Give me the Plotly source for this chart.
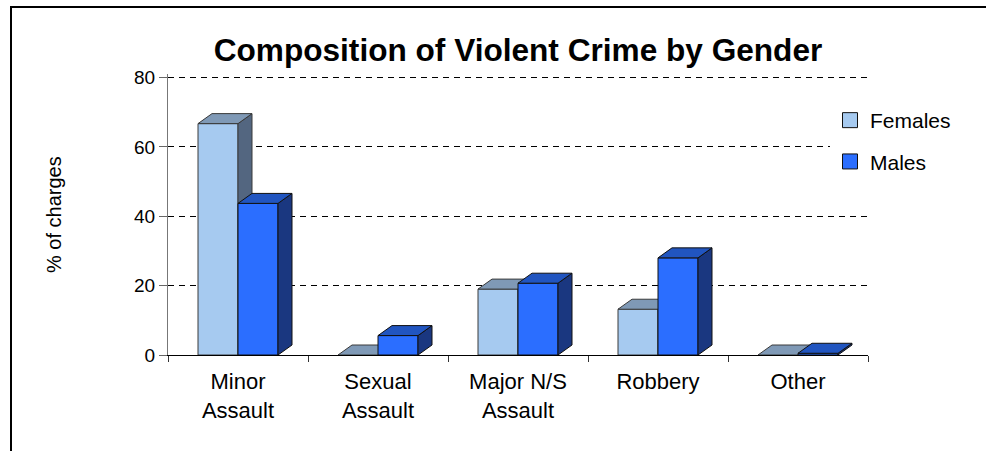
import plotly.graph_objects as go

# ---- data -------------------------------------------------------------
categories = ["Minor<br>Assault", "Sexual<br>Assault", "Major N/S<br>Assault", "Robbery", "Other"]
females = [66.7, 0.0, 19.0, 13.2, 0.0]
males = [43.7, 5.6, 20.7, 28.0, 0.5]
y_ticks = [0, 20, 40, 60, 80]

# ---- styling ----------------------------------------------------------
FONT = "Arial, Liberation Sans, sans-serif"
BAR_W = 0.2857          # width of one bar, in category units
DEPTH_X = 0.10          # 3-D depth offset along x (category units)
DEPTH_Y = 2.88          # 3-D depth offset along y (value units)

series = [
    ("Females", females, -BAR_W, dict(front="#A6CAF0", top="#7F99B6", side="#536680", edge="#3a3a3a")),
    ("Males", males, 0.0, dict(front="#2B6EFF", top="#2155C0", side="#1A3780", edge="#111111")),
]

fig = go.Figure()


def face(xs, ys, fill, edge):
    fig.add_trace(go.Scatter(
        x=xs + [xs[0]], y=ys + [ys[0]], mode="lines", fill="toself",
        fillcolor=fill, line=dict(color=edge, width=1),
        hoverinfo="skip", showlegend=False))


for name, values, offset, col in series:
    for i, v in enumerate(values):
        x0 = i + offset
        x1 = x0 + BAR_W
        # front face
        face([x0, x1, x1, x0], [0, 0, v, v], col["front"], col["edge"])
        # side face
        face([x1, x1 + DEPTH_X, x1 + DEPTH_X, x1], [0, DEPTH_Y, v + DEPTH_Y, v], col["side"], col["edge"])
        # top face
        face([x0, x1, x1 + DEPTH_X, x0 + DEPTH_X], [v, v, v + DEPTH_Y, v + DEPTH_Y], col["top"], col["edge"])

# legend entries
for k, (name, values, offset, col) in enumerate(series):
    fig.add_trace(go.Scatter(
        x=[None], y=[None], mode="markers", name=name, legendgroup=f"g{k}",
        marker=dict(symbol="square", size=15, color=col["front"],
                    line=dict(color="#111111", width=1))))

W, H = 986, 451
L, R, T, B = 168, 118, 74, 96
pw, ph = W - L - R, H - T - B
Y_MAX = 81


def px_x(x):
    return (x - L) / pw


def px_y(y):
    return (H - B - y) / ph


# outer frame: left and top edges only
frame = [
    dict(type="line", xref="paper", yref="paper",
         x0=px_x(11), x1=px_x(11), y0=px_y(H), y1=px_y(6),
         line=dict(color="black", width=2), layer="above"),
    dict(type="line", xref="paper", yref="paper",
         x0=px_x(10), x1=px_x(W), y0=px_y(7), y1=px_y(7),
         line=dict(color="black", width=2), layer="above"),
]

fig.update_layout(
    width=W, height=H,
    margin=dict(l=L, r=R, t=T, b=B),
    paper_bgcolor="white", plot_bgcolor="white",
    font=dict(family=FONT, color="black"),
    title=dict(text="<b>Composition of Violent Crime by Gender</b>",
               x=0.5, xref="paper", xanchor="center",
               y=(H - 50) / H, yanchor="middle",
               font=dict(size=31.6, family=FONT, color="black")),
    xaxis=dict(
        range=[-0.5, 4.5], tickmode="array",
        tickvals=list(range(len(categories))), ticktext=categories,
        ticks="", showgrid=False, zeroline=False,
        showline=True, linecolor="black", linewidth=1,
        tickfont=dict(size=22, family=FONT), ticklabelstandoff=7,
        minor=dict(ticks="outside", tick0=-0.5, dtick=1, ticklen=6,
                   tickcolor="#333333", tickwidth=1, showgrid=False),
        fixedrange=True),
    yaxis=dict(
        range=[0, Y_MAX], tickvals=y_ticks,
        ticks="outside", ticklen=8, tickcolor="#666666", tickwidth=1,
        showline=True, linecolor="#777777", linewidth=1,
        showgrid=True, gridcolor="black", gridwidth=1, griddash="6px,5px",
        zeroline=False, tickfont=dict(size=19, family=FONT),
        fixedrange=True),
    legend=dict(x=px_x(830), y=px_y(100), xanchor="left", yanchor="top",
                bgcolor="white", font=dict(size=21, family=FONT),
                traceorder="grouped", tracegroupgap=11,
                itemsizing="trace"),
    annotations=[dict(text="% of charges", textangle=-90,
                      x=px_x(54), y=px_y(215), xref="paper", yref="paper",
                      xanchor="center", yanchor="middle", showarrow=False,
                      font=dict(size=20, family=FONT, color="black"))],
    shapes=frame,
)

fig.write_html("out.html")
